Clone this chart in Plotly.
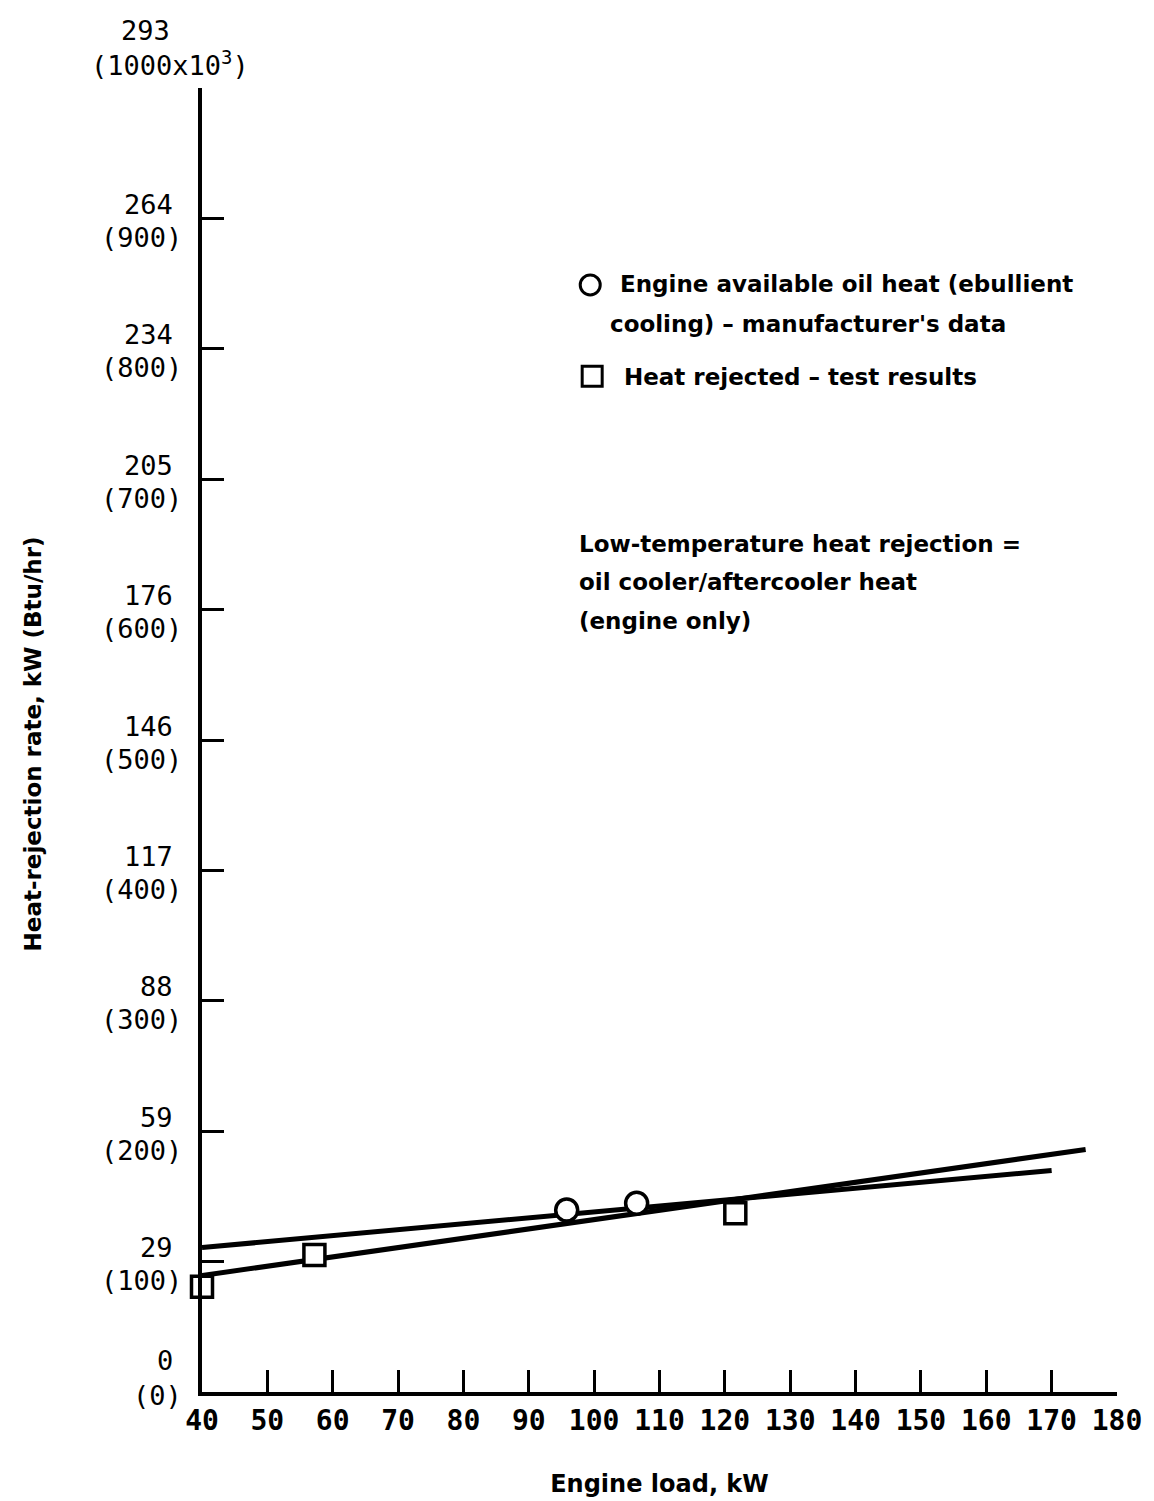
import plotly.graph_objects as go

# Engine load (kW) and heat-rejection rate (Btu/hr x 10^3)
oil_load = [95.8, 106.5]
oil_heat = [139.6, 144.7]

rej_load = [40, 57.2, 121.6]
rej_heat = [80.8, 105.0, 137.0]

# faired lines through each data set
oil_fit_load = [40, 170]
oil_fit_heat = [110.8, 169.9]
rej_fit_load = [40, 175.2]
rej_fit_heat = [89.3, 186.0]

x_ticks = [40, 50, 60, 70, 80, 90, 100, 110, 120, 130, 140, 150, 160, 170, 180]
y_btu = [0, 100, 200, 300, 400, 500, 600, 700, 800, 900, 1000]
y_kw = ["0", "29", "59", "88", "117", "146", "176", "205", "234", "264", "293"]
y_btu_text = ["(0)", "(100)", "(200)", "(300)", "(400)", "(500)", "(600)",
              "(700)", "(800)", "(900)", "(1000x10<sup>3</sup>)"]

MONO = "DejaVu Sans Mono"
SANS = "DejaVu Sans"
BLACK = "black"


def note_font(size=23):
    return dict(family=SANS, size=size, color=BLACK, weight="bold")


fig = go.Figure()

fig.add_trace(go.Scatter(x=oil_fit_load, y=oil_fit_heat, mode="lines",
                         line=dict(color=BLACK, width=5), cliponaxis=False,
                         showlegend=False, hoverinfo="skip"))
fig.add_trace(go.Scatter(x=rej_fit_load, y=rej_fit_heat, mode="lines",
                         line=dict(color=BLACK, width=5), cliponaxis=False,
                         showlegend=False, hoverinfo="skip"))
fig.add_trace(go.Scatter(x=oil_load, y=oil_heat, mode="markers",
                         marker=dict(symbol="circle", size=22, color="white",
                                     line=dict(color=BLACK, width=3.5)),
                         cliponaxis=False, showlegend=False))
fig.add_trace(go.Scatter(x=rej_load, y=rej_heat, mode="markers",
                         marker=dict(symbol="square", size=21, color="white",
                                     line=dict(color=BLACK, width=3.5)),
                         cliponaxis=False, showlegend=False))

annotations = []

# two-line y tick labels: kW above, (Btu/hr) below
for v, kw, btu in zip(y_btu, y_kw, y_btu_text):
    up, down = -14, 19
    if v == 0:
        up, down = -32, 3
    elif v == 1000:
        up, down = -58, -25
    lab_font = dict(family=MONO, size=27, color=BLACK)
    if v == 1000:
        annotations.append(dict(x=0, xref="paper", y=v, yref="y", text=kw,
                                showarrow=False, xanchor="center", xshift=-57,
                                yshift=-up, font=lab_font))
        annotations.append(dict(x=0, xref="paper", y=v, yref="y", text=btu,
                                showarrow=False, xanchor="center", xshift=-32,
                                yshift=-down, font=lab_font))
    else:
        annotations.append(dict(x=0, xref="paper", y=v, yref="y", text=kw,
                                showarrow=False, xanchor="right", xshift=-27,
                                yshift=-up, font=lab_font))
        annotations.append(dict(x=0, xref="paper", y=v, yref="y", text=btu,
                                showarrow=False, xanchor="right", xshift=-18,
                                yshift=-down, font=lab_font))

# legend text and notes
annotations += [
    dict(x=103.7, y=850, xref="x", yref="y",
         text="Engine available oil heat (ebullient", showarrow=False,
         xanchor="left", font=note_font()),
    dict(x=102.1, y=819, xref="x", yref="y",
         text="cooling) \u2013 manufacturer's data", showarrow=False,
         xanchor="left", font=note_font()),
    dict(x=104.2, y=778, xref="x", yref="y",
         text="Heat rejected \u2013 test results", showarrow=False,
         xanchor="left", font=note_font()),
    dict(x=97.3, y=650, xref="x", yref="y",
         text="Low-temperature heat rejection =", showarrow=False,
         xanchor="left", font=note_font()),
    dict(x=97.3, y=621, xref="x", yref="y",
         text="oil cooler/aftercooler heat", showarrow=False,
         xanchor="left", font=note_font()),
    dict(x=97.3, y=591, xref="x", yref="y",
         text="(engine only)", showarrow=False,
         xanchor="left", font=note_font()),
]

# legend keys, sized in pixels
shapes = [
    dict(type="circle", xref="x", yref="y", xsizemode="pixel", ysizemode="pixel",
         xanchor=99.4, yanchor=849, x0=-10, x1=10, y0=-10, y1=10,
         line=dict(color=BLACK, width=3), fillcolor="white"),
    dict(type="rect", xref="x", yref="y", xsizemode="pixel", ysizemode="pixel",
         xanchor=99.7, yanchor=779, x0=-10, x1=10, y0=-10, y1=10,
         line=dict(color=BLACK, width=3), fillcolor="white"),
]

fig.update_layout(
    width=1154, height=1501,
    paper_bgcolor="white", plot_bgcolor="white",
    margin=dict(l=201.5, r=37.3, t=88, b=109),
    annotations=annotations,
    shapes=shapes,
    xaxis=dict(
        range=[40, 180], tickvals=x_ticks, ticktext=[str(t) for t in x_ticks],
        automargin=False,
        showgrid=False, zeroline=False, showline=True, linecolor=BLACK, linewidth=4,
        ticks="inside", ticklen=22, tickwidth=3, tickcolor=BLACK,
        tickfont=dict(family=MONO, size=28, color=BLACK, weight="bold"),
        title=dict(text="Engine load, kW", standoff=41, font=note_font(24)),
    ),
    yaxis=dict(
        range=[0, 1000], tickvals=y_btu, showticklabels=False, automargin=False,
        showgrid=False, zeroline=False, showline=True, linecolor=BLACK, linewidth=4,
        ticks="inside", ticklen=22, tickwidth=3, tickcolor=BLACK,
    ),
)

# rotated y-axis title
fig.add_annotation(x=0, xref="paper", y=497, yref="y", xshift=-169.5, xanchor="center",
                   text="Heat-rejection rate, kW (Btu/hr)", textangle=-90,
                   showarrow=False, font=note_font(23))

fig.write_html("out.html")
